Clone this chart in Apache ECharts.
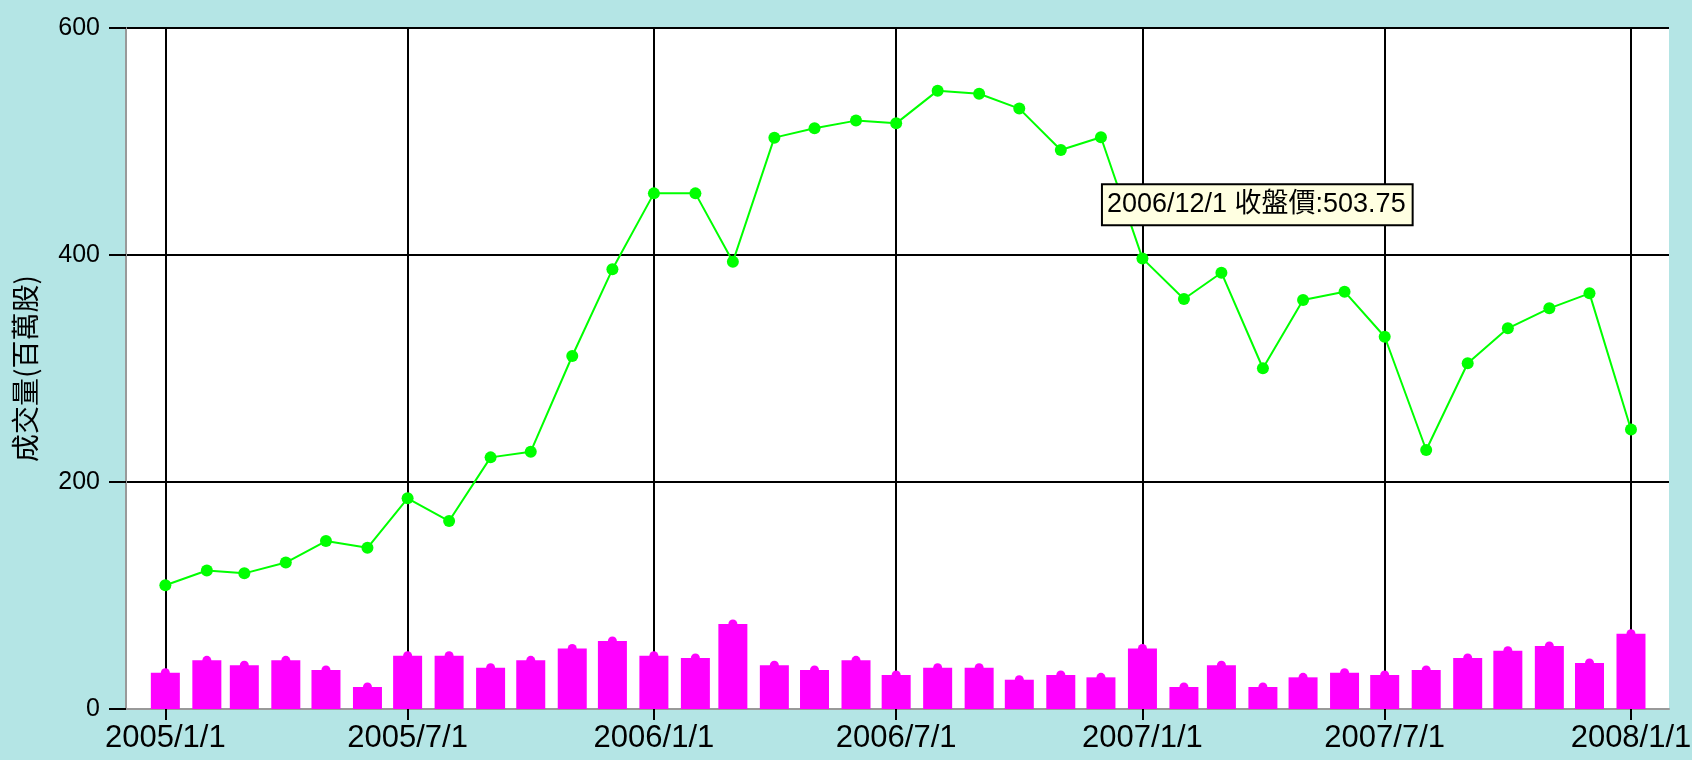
<!DOCTYPE html>
<html><head><meta charset="utf-8">
<script src="https://cdn.jsdelivr.net/npm/echarts@6/dist/echarts.min.js"></script>
<style>html,body{margin:0;padding:0;background:#B4E5E5}#c{width:1692px;height:760px}</style>
</head><body><div id="c"></div>
<script>
const months = ['2005/1/1','2005/2/1','2005/3/1','2005/4/1','2005/5/1','2005/6/1','2005/7/1','2005/8/1','2005/9/1','2005/10/1','2005/11/1','2005/12/1',
  '2006/1/1','2006/2/1','2006/3/1','2006/4/1','2006/5/1','2006/6/1','2006/7/1','2006/8/1','2006/9/1','2006/10/1','2006/11/1','2006/12/1',
  '2007/1/1','2007/2/1','2007/3/1','2007/4/1','2007/5/1','2007/6/1','2007/7/1','2007/8/1','2007/9/1','2007/10/1','2007/11/1','2007/12/1',
  '2008/1/1'];
const closePrice = [109, 122, 119.5, 129, 148, 142, 185.6, 165.6, 221.7, 226.7, 311, 387.4,
  454.3, 454.3, 394, 503.4, 511.6, 518.4, 516, 544.8, 542.1, 529, 492.5, 503.75,
  397, 361.2, 384.4, 300.2, 360.4, 367.7, 328, 228.2, 304.6, 335.4, 353, 366.2,
  246.3];
const volume = [32, 42.9, 38.5, 42.9, 34.4, 19.4, 47, 47, 36.4, 42.9, 53.4, 59.9,
  47, 44.9, 74.9, 38.5, 34.4, 42.9, 30, 36.4, 36.4, 25.8, 30, 27.9,
  53.4, 19.4, 38.5, 19.4, 27.9, 32, 30, 34.4, 44.9, 51.4, 55.5, 40.5,
  66.4];
const tickDates = ['2005/1/1','2005/7/1','2006/1/1','2006/7/1','2007/1/1','2007/7/1','2008/1/1'];
const yTicks = [0, 200, 400, 600];
const calloutIndex = 23;
const yName = '成交量(百萬股)';
const priceLabel = '收盤價';

function toTime(s){ const p = s.split('/').map(Number); return Date.UTC(p[0], p[1]-1, p[2]); }
function fmt(t){ const d = new Date(t); return d.getUTCFullYear() + '/' + (d.getUTCMonth()+1) + '/' + d.getUTCDate(); }
const DAY = 86400000;
const tickTimes = tickDates.map(toTime);
const xMin = tickTimes[0] - 29.4 * DAY;
const xMax = tickTimes[tickTimes.length - 1] + 28.4 * DAY;

const GREEN = '#00FF00', MAGENTA = '#FF00FF';
const FONT = '"Liberation Sans", Arial, "Noto Sans CJK TC", sans-serif';

const lineData = months.map((m, i) => {
  const v = [toTime(m), closePrice[i]];
  if (i !== calloutIndex) return v;
  return {
    value: v,
    label: {
      show: true,
      position: [8, 54],
      align: 'left',
      verticalAlign: 'top',
      formatter: p => fmt(p.value[0]) + ' ' + priceLabel + ':' + p.value[1],
      backgroundColor: '#FFFFE1',
      borderColor: '#000',
      borderWidth: 2,
      padding: [5, 6, 5, 4],
      color: '#000',
      fontFamily: FONT,
      fontSize: 27,
      lineHeight: 29
    }
  };
});
const barData = months.map((m, i) => [toTime(m), volume[i]]);

const chart = echarts.init(document.getElementById('c'));
chart.setOption({
  animation: false,
  backgroundColor: '#B4E5E5',
  grid: { left: 126, right: 23, top: 28, bottom: 51, outerBoundsMode: 'none', containLabel: false,
          show: true, backgroundColor: '#FFFFFF', borderWidth: 0 },
  xAxis: {
    type: 'value', min: xMin, max: xMax, scale: true,
    axisLine: { show: true, onZero: false, lineStyle: { color: '#999999', width: 2 } },
    axisTick: { show: true, length: 11, customValues: tickTimes, lineStyle: { color: '#000', width: 2 } },
    axisLabel: { customValues: tickTimes, formatter: v => fmt(v), color: '#000', fontFamily: FONT, fontSize: 31, margin: 14 },
    splitLine: { show: true, customValues: tickTimes, lineStyle: { color: '#000', width: 2 } }
  },
  yAxis: {
    type: 'value', min: yTicks[0], max: yTicks[yTicks.length - 1], interval: yTicks[1] - yTicks[0],
    name: yName, nameLocation: 'middle', nameGap: 87,
    nameTextStyle: { color: '#000', fontFamily: '"Noto Sans CJK TC", sans-serif', fontSize: 28 },
    axisLine: { show: true, lineStyle: { color: '#999999', width: 2 } },
    axisTick: { show: true, length: 17, lineStyle: { color: '#000', width: 2 } },
    axisLabel: { color: '#000', fontFamily: FONT, fontSize: 25, margin: 26 },
    splitLine: { show: true, lineStyle: { color: '#000', width: 2 } }
  },
  series: [
    { type: 'bar', data: barData, barWidth: 29, itemStyle: { color: MAGENTA }, z: 3 },
    { type: 'scatter', data: barData, symbol: 'circle', symbolSize: 9, itemStyle: { color: MAGENTA, opacity: 1 }, z: 3 },
    { type: 'line', data: lineData, symbol: 'circle', symbolSize: 12, showAllSymbol: true,
      lineStyle: { color: GREEN, width: 2 }, itemStyle: { color: GREEN, borderWidth: 0 }, z: 4 }
  ]
});
</script></body></html>
